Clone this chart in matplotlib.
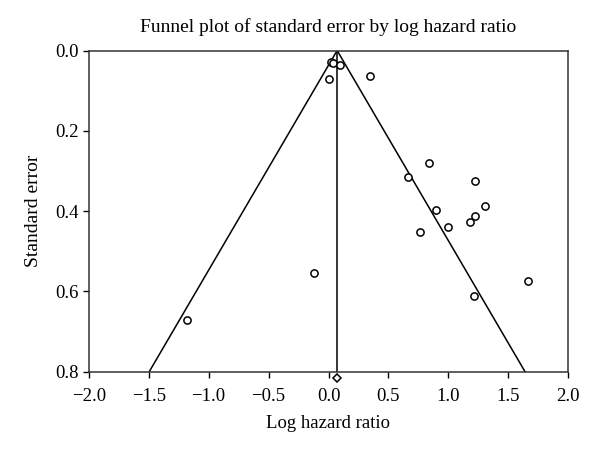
import numpy as np
import matplotlib
matplotlib.use("Agg")
import matplotlib.pyplot as plt

plt.rcParams['font.family'] = ['Liberation Serif', 'DejaVu Serif']

# study estimates
log_hr = [0.022, 0.039, 0.094, 0.003, 0.35,
          0.836, 0.664, 1.219, 1.306, 0.90, 1.222, 1.178, 0.997, 0.761,
          1.667, 1.214, -0.117, -1.178]
std_err = [0.028, 0.030, 0.036, 0.072, 0.064,
           0.281, 0.314, 0.324, 0.387, 0.397, 0.411, 0.428, 0.439, 0.452,
           0.574, 0.612, 0.553, 0.670]

pooled = 0.072       # summary log hazard ratio
pooled_se = 0.8165   # diamond shown just under the axis
z = 1.96
se_max = 0.8

fig = plt.figure(figsize=(6, 4.55), dpi=100)
ax = fig.add_axes([0.148, 0.183, 0.799, 0.706])

# funnel
ax.plot([pooled - z * se_max, pooled, pooled + z * se_max], [se_max, 0, se_max],
        color='black', lw=1.1)
ax.plot([pooled, pooled], [0, se_max], color='black', lw=1.1)

ax.plot(log_hr, std_err, 'o', mfc='white', mec='black', ms=5.2, mew=1.1)
ax.plot([pooled], [pooled_se], 'D', mfc='white', mec='black', ms=4.2, mew=1.1,
        clip_on=False, zorder=5)

ax.set_xlim(-2.0, 2.0)
ax.set_ylim(0.8, 0.0)
ax.set_xticks(np.arange(-2.0, 2.01, 0.5))
ax.set_yticks(np.arange(0.0, 0.81, 0.2))
ax.set_xticklabels(['\u22122.0', '\u22121.5', '\u22121.0', '\u22120.5', '0.0',
                    '0.5', '1.0', '1.5', '2.0'])
ax.set_yticklabels(['0.0', '0.2', '0.4', '0.6', '0.8'])
ax.tick_params(direction='out', length=4, width=1, labelsize=13.5, colors='black')
ax.tick_params(axis='x', pad=8)
for s in ax.spines.values():
    s.set_linewidth(1.1)
    s.set_color('#333333')

ax.set_xlabel('Log hazard ratio', fontsize=13.5, labelpad=7)
ax.set_ylabel('Standard error', fontsize=14, labelpad=9)
ax.set_title('Funnel plot of standard error by log hazard ratio', fontsize=14, pad=13)

fig.savefig('out.png', dpi=100)
